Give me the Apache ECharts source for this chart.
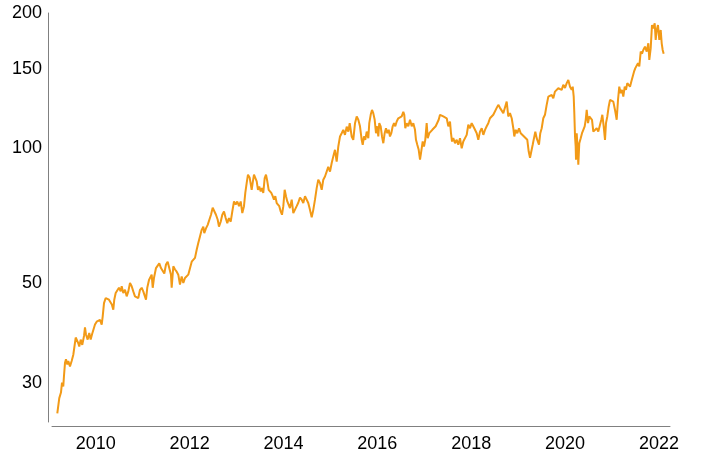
<!DOCTYPE html>
<html><head><meta charset="utf-8">
<script src="https://cdn.jsdelivr.net/npm/echarts@6/dist/echarts.min.js"></script>
<style>html,body{margin:0;padding:0;background:#fff}#c{width:707px;height:458px}</style>
</head><body><div id="c"></div>
<script>
const years = [
2009.180,2009.222,2009.258,2009.280,2009.307,2009.322,2009.344,2009.365,2009.393,2009.414,
2009.450,2009.486,2009.521,2009.542,2009.572,2009.593,2009.627,2009.648,2009.678,2009.712,
2009.749,2009.770,2009.791,2009.827,2009.861,2009.891,2009.919,2009.947,2009.983,2010.019,
2010.053,2010.090,2010.126,2010.147,2010.175,2010.211,2010.245,2010.281,2010.318,2010.345,
2010.373,2010.394,2010.424,2010.458,2010.494,2010.531,2010.552,2010.586,2010.622,2010.658,
2010.693,2010.729,2010.765,2010.799,2010.835,2010.872,2010.906,2010.942,2010.978,2011.012,
2011.048,2011.070,2011.097,2011.134,
2011.155,2011.191,2011.213,2011.240,2011.283,2011.311,2011.353,2011.389,2011.426,2011.460,
2011.496,2011.532,2011.566,2011.602,2011.617,2011.652,2011.688,2011.724,2011.758,2011.794,
2011.830,2011.865,2011.901,2011.937,2011.971,2012.007,2012.044,2012.078,2012.114,2012.150,
2012.184,2012.220,2012.257,2012.291,2012.312,2012.348,2012.385,2012.419,2012.455,2012.491,
2012.525,2012.561,2012.598,2012.625,2012.662,2012.696,2012.732,2012.768,2012.802,2012.838,
2012.875,2012.909,2012.945,2012.981,2013.015,2013.052,2013.088,2013.122,2013.158,2013.186,
2013.216,2013.243,2013.280,
2013.286,2013.322,2013.343,2013.371,2013.399,2013.429,2013.456,2013.484,2013.514,2013.542,
2013.569,2013.599,2013.627,2013.655,2013.684,2013.712,2013.740,2013.770,2013.797,2013.825,
2013.855,2013.883,2013.910,2013.940,2013.968,2013.996,2014.025,2014.053,2014.081,2014.111,
2014.138,2014.175,2014.209,2014.245,2014.281,2014.315,2014.351,2014.388,2014.422,2014.458,
2014.494,2014.528,2014.564,2014.601,2014.635,2014.671,2014.707,2014.741,2014.778,2014.814,
2014.848,2014.884,2014.920,2014.954,2014.991,2015.027,2015.061,2015.097,2015.133,2015.168,
2015.204,2015.240,2015.274,2015.310,2015.347,2015.381,2015.411,
2015.453,2015.487,2015.524,2015.560,2015.594,2015.630,2015.666,2015.688,2015.715,2015.743,
2015.773,2015.807,2015.828,2015.858,2015.886,2015.913,2015.943,2015.971,2015.999,2016.020,
2016.041,2016.071,2016.099,2016.127,2016.156,2016.184,2016.212,2016.242,2016.269,2016.297,
2016.327,2016.355,2016.382,2016.412,2016.446,2016.482,2016.519,2016.553,2016.574,2016.595,
2016.625,2016.659,2016.696,2016.732,2016.766,2016.802,2016.823,2016.851,2016.881,2016.909,
2016.930,2016.966,2016.994,2017.021,2017.051,2017.073,2017.107,2017.137,2017.171,2017.207,
2017.243,2017.277,2017.307,2017.335,2017.371,2017.405,2017.441,2017.478,2017.512,2017.541,
2017.548,2017.569,2017.591,2017.618,2017.655,2017.691,2017.725,2017.761,2017.797,2017.831,
2017.868,2017.904,2017.938,2017.974,2018.010,2018.044,2018.081,2018.117,2018.151,2018.187,
2018.224,2018.258,2018.294,2018.330,2018.364,2018.400,2018.436,2018.471,2018.507,2018.543,
2018.577,2018.613,2018.650,2018.684,2018.720,2018.756,2018.790,2018.826,2018.863,2018.897,
2018.918,2018.948,2018.982,2019.018,2019.055,2019.089,2019.125,2019.161,2019.195,2019.225,
2019.253,2019.280,2019.310,2019.338,2019.366,2019.395,2019.423,2019.444,2019.472,2019.502,
2019.536,2019.572,2019.608,2019.643,2019.679,2019.715,2019.749,2019.785,2019.822,2019.856,
2019.892,2019.928,2019.962,2019.999,2020.035,2020.069,2020.105,2020.141,2020.163,2020.184,
2020.197,2020.212,2020.226,2020.233,2020.248,2020.269,2020.282,2020.303,2020.333,2020.361,
2020.389,2020.418,2020.440,2020.461,2020.489,2020.516,2020.546,2020.574,2020.602,2020.638,
2020.674,2020.708,2020.744,2020.772,2020.794,2020.823,2020.851,2020.872,2020.900,2020.930,
2020.958,2020.994,2021.028,2021.064,2021.100,2021.128,2021.155,2021.185,2021.213,2021.241,
2021.271,2021.298,2021.326,2021.356,2021.384,2021.411,2021.441,2021.469,2021.497,2021.526,
2021.554,2021.582,2021.612,2021.640,2021.667,2021.703,2021.740,2021.774,2021.795,2021.825,
2021.852,2021.880,2021.910,2021.931,2021.953,2021.980,2022.008,2022.038,2022.059,2022.080,
2022.101
];
const values = [
25.6,27.7,28.5,30.0,29.4,31.0,33.2,33.8,32.9,33.5,
32.6,33.5,34.6,34.3,37.8,38.1,36.7,36.1,37.4,36.4,
38.1,39.8,38.4,37.4,38.7,37.4,38.4,38.7,40.4,41.0,
40.7,41.4,40.4,42.1,45.1,46.3,46.7,45.9,46.3,44.7,
43.6,45.9,47.5,47.9,48.8,47.9,49.2,47.5,48.3,46.7,
47.9,50.0,49.2,47.9,46.7,47.1,46.3,48.3,48.8,47.9,
47.5,45.9,48.8,50.8,
50.9,52.2,48.8,51.3,54.0,54.5,55.3,54.0,54.5,52.5,
55.0,55.8,55.3,52.2,48.8,54.5,53.6,53.0,52.2,49.6,
51.7,50.0,51.3,50.8,52.2,52.6,55.8,55.3,56.9,59.3,
61.4,63.5,65.7,66.8,64.6,66.2,67.4,68.0,71.0,73.6,
73.0,71.0,69.2,66.8,68.5,71.0,72.2,69.8,68.0,69.8,
68.5,72.2,76.0,74.8,76.0,74.2,76.0,71.6,74.2,79.4,
83.6,87.2,85.8,
85.0,80.7,83.6,87.2,87.9,84.3,80.7,82.1,80.0,81.4,
79.4,85.7,87.2,84.3,80.7,81.4,79.4,78.1,76.7,78.1,
75.4,76.0,74.2,72.2,71.0,74.2,80.7,78.1,76.0,76.7,
73.5,76.7,71.6,72.2,74.2,75.5,77.5,76.7,75.4,78.1,
78.7,75.4,72.8,70.1,72.8,76.7,81.4,85.0,83.6,80.7,
85.0,86.4,88.6,90.8,88.6,92.6,95.8,99.1,93.3,100.8,
106.1,107.9,109.8,107.0,111.6,108.8,113.6,
106.1,104.3,113.6,117.6,115.6,111.8,104.3,101.7,106.1,104.3,
108.8,105.2,113.6,118.6,121.6,119.6,115.6,107.9,111.8,106.1,
113.6,111.8,106.1,102.5,107.9,110.7,107.9,109.8,106.1,107.9,
111.8,113.6,111.8,114.6,116.5,115.6,117.6,120.5,118.6,110.7,
113.6,111.8,115.6,111.8,113.6,109.8,104.3,101.7,99.1,94.2,
97.4,103.4,100.8,104.3,113.6,105.2,107.9,107.0,109.8,108.8,
111.8,112.7,115.6,118.6,119.6,117.6,118.6,116.5,111.8,110.9,
114.5,107.9,103.4,105.2,102.5,104.3,101.7,105.2,99.9,103.4,
104.3,107.0,112.7,110.7,113.6,111.8,109.8,107.9,104.3,108.8,
110.7,107.0,109.8,111.8,113.6,116.5,117.6,118.6,119.6,122.9,
124.8,122.9,123.9,119.6,120.5,126.9,117.6,119.6,116.5,110.7,
106.1,109.8,107.9,110.7,107.9,108.8,106.1,107.0,104.3,98.2,
95.1,95.9,101.7,105.2,108.8,105.2,104.3,101.7,107.9,110.7,
116.5,118.6,124.8,130.2,129.1,131.3,129.1,133.6,132.5,135.9,
137.0,134.8,138.3,136.1,139.5,141.8,137.0,134.8,137.0,130.2,
119.6,106.1,100.8,94.2,107.9,99.1,91.8,102.5,105.2,107.9,
109.8,111.8,115.6,121.6,113.6,117.6,118.6,115.6,108.8,107.9,
110.7,108.8,107.9,115.6,118.6,111.8,104.3,113.6,117.6,123.8,
128.0,129.1,126.9,121.6,115.6,128.0,137.0,132.5,134.8,130.2,
137.0,134.8,139.5,138.3,137.0,140.6,141.8,148.0,150.7,149.5,
154.6,152.0,164.0,162.3,165.4,168.3,164.0,171.2,157.2,167.0,
188.0,184.9,189.7,174.2,183.3,188.0,174.2,183.3,171.2,165.4,
162.3
];
const xTickYears = [2010, 2012, 2014, 2016, 2018, 2020, 2022];
const yTickValues = [30, 50, 100, 150, 200];
const xRange = [2009.067, 2022.236];
const yRange = [24.5, 200];

const seriesData = years.map((y, i) => [y, values[i]]);
const font = 'Liberation Sans, Arial, sans-serif';
const chart = echarts.init(document.getElementById('c'), null, { renderer: 'canvas' });
chart.setOption({
  animation: false,
  backgroundColor: '#ffffff',
  grid: { left: 52, right: 37, top: 13, bottom: 36, containLabel: false },
  xAxis: {
    type: 'value',
    min: xRange[0],
    max: xRange[1],
    offset: 4,
    axisLine: { show: true, lineStyle: { color: '#808080', width: 1 } },
    axisTick: { show: false },
    splitLine: { show: false },
    axisLabel: {
      customValues: xTickYears,
      formatter: v => String(Math.round(v)),
      color: '#000', fontSize: 18, fontFamily: font, margin: 9
    }
  },
  yAxis: {
    type: 'log',
    logBase: 10,
    min: yRange[0],
    max: yRange[1],
    offset: 4,
    axisLine: { show: true, lineStyle: { color: '#808080', width: 1 } },
    axisTick: { show: false },
    splitLine: { show: false },
    axisLabel: {
      customValues: yTickValues,
      formatter: v => String(Math.round(v)),
      color: '#000', fontSize: 18, fontFamily: font, margin: 6
    }
  },
  series: [{
    type: 'line',
    data: seriesData,
    showSymbol: false,
    symbol: 'none',
    lineStyle: { color: '#F29A17', width: 2 },
    itemStyle: { color: '#F29A17' }
  }]
});
</script>
</body></html>
